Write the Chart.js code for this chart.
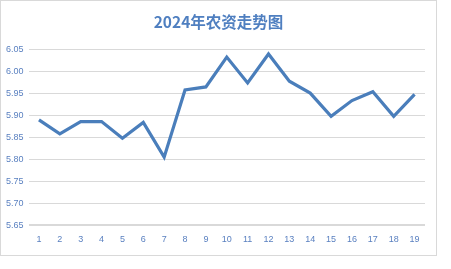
<!DOCTYPE html>
<html>
<head>
<meta charset="utf-8">
<script src="https://cdn.jsdelivr.net/npm/chart.js@4"></script>
<style>
  body { margin: 0; background: #fff; }
  .box {
    position: absolute; left: 0; top: 0;
    width: 437px; height: 256px;
    box-sizing: border-box;
    border: 1px solid #d9d9d9;
  }
</style>
</head>
<body>
<div class="box"><canvas id="trend"></canvas></div>
<script>
/* ── data ── */
const titleText = '2024年农资走势图';
const periods = ['1','2','3','4','5','6','7','8','9','10','11','12','13','14','15','16','17','18','19'];
const prices  = [5.89, 5.858, 5.886, 5.886, 5.848, 5.884, 5.805, 5.958, 5.965, 6.033,
                 5.974, 6.04, 5.978, 5.951, 5.898, 5.934, 5.954, 5.898, 5.948];
const yTicks  = [5.65, 5.70, 5.75, 5.80, 5.85, 5.90, 5.95, 6.00, 6.05];

const tickColor = '#5a80c0';
const tickFont  = { family: '"Liberation Sans", sans-serif', size: 9 };

new Chart(document.getElementById('trend'), {
  type: 'line',
  data: {
    labels: periods,
    datasets: [{
      data: prices,
      borderColor: '#4a7ebb',
      borderWidth: 3.2,
      pointRadius: 0,
      tension: 0,
      fill: false,
    }],
  },
  options: {
    responsive: true, maintainAspectRatio: false,
    animation: false,
    layout: { padding: { left: 0, right: 0, bottom: 1 } },
    plugins: {
      legend: { display: false },
      tooltip: { enabled: false },
      title: {
        display: true, text: titleText, color: '#4f7fc0',
        font: { family: '"Noto Sans CJK SC", sans-serif', size: 15.5, weight: 'bold' },
        padding: { top: 12, bottom: 18 },
      },
    },
    scales: {
      x: {
        offset: true,
        grid: { display: false, drawTicks: false },
        border: { display: false },
        ticks: { color: tickColor, font: tickFont, padding: 9, maxRotation: 0, autoSkip: false },
      },
      y: {
        min: yTicks[0], max: yTicks[yTicks.length - 1],
        afterBuildTicks: axis => { axis.ticks = yTicks.map(v => ({ value: v })); },
        grid: { color: '#d9d9d9', lineWidth: ctx => ctx.index === 0 ? 2 : 1, drawTicks: false },
        border: { display: false },
        ticks: { color: tickColor, font: tickFont, padding: 5, callback: v => Number(v).toFixed(2) },
      },
      /* empty right gutter so the title stays centred on the whole box */
      gutter: {
        position: 'right', min: 0, max: 1,
        grid: { display: false }, border: { display: false },
        ticks: { display: false },
        afterFit: axis => { axis.width = 11; },
      },
    },
  },
});
</script>
</body>
</html>
